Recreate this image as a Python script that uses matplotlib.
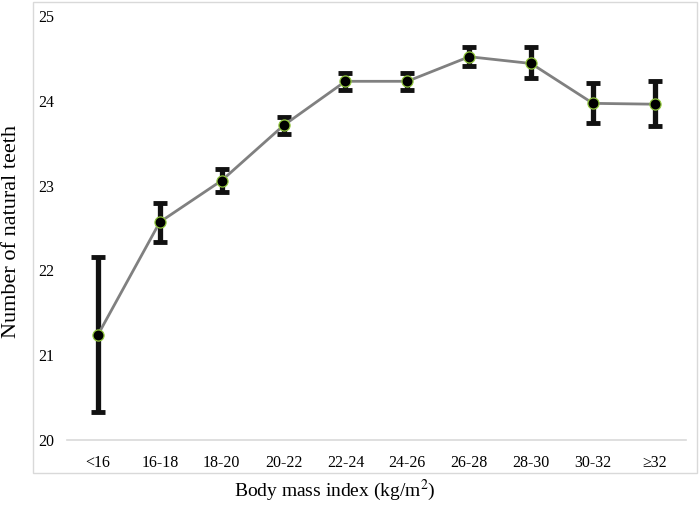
import numpy as np
import matplotlib
matplotlib.use("Agg")
import matplotlib.pyplot as plt
from matplotlib.patches import Rectangle

# mean number of natural teeth by BMI group, with 95% CI bounds
bmi_groups = ["<16", "16-18", "18-20", "20-22", "22-24", "24-26", "26-28", "28-30", "30-32", "≥32"]
mean_teeth = [21.24, 22.57, 23.06, 23.71, 24.23, 24.23, 24.52, 24.44, 23.97, 23.96]
ci_low = [20.33, 22.33, 22.92, 23.61, 24.13, 24.13, 24.41, 24.27, 23.74, 23.70]
ci_high = [22.16, 22.80, 23.20, 23.81, 24.33, 24.33, 24.64, 24.63, 24.21, 24.23]
y_ticks = [20, 21, 22, 23, 24, 25]

plt.rcParams["font.family"] = ["Liberation Serif", "DejaVu Serif"]
plt.rcParams["mathtext.fontset"] = "stix"

fig = plt.figure(figsize=(7.0, 5.05), dpi=100)
ax = fig.add_axes([0.0957, 0.1287, 0.884, 0.8396])

# outer frame around the chart area
fig.patches.append(Rectangle((33 / 700, 1 - 473 / 505), 664 / 700, 471 / 505,
                             transform=fig.transFigure, fill=False,
                             edgecolor="#d9d9d9", lw=1.0))

x = np.arange(len(bmi_groups))
m = np.array(mean_teeth)
yerr = [m - np.array(ci_low), np.array(ci_high) - m]

ax.errorbar(x, m, yerr=yerr, fmt="none", ecolor="#111111", elinewidth=3.8,
            capsize=5, capthick=3.5, zorder=2)
ax.plot(x, m, color="#808080", lw=2.0, zorder=3)
ax.plot(x, m, ls="none", marker="o", ms=8, mfc="black", mec="#92c83e", mew=0.9, zorder=4)

ax.set_xlim(-0.5, len(bmi_groups) - 0.5)
ax.set_ylim(20, 25)
ax.set_xticks(x)
ax.set_xticklabels(bmi_groups, fontsize=11.5)
ax.set_yticks(y_ticks)
ax.set_yticklabels([str(t) for t in y_ticks], fontsize=11.5)
ax.tick_params(axis="x", length=0, pad=11)
ax.tick_params(axis="y", length=0, pad=9.5)
for s in ["top", "right", "left"]:
    ax.spines[s].set_visible(False)
ax.spines["bottom"].set_color("#d9d9d9")
ax.spines["bottom"].set_linewidth(1.2)

fig.text(12 / 700, 1 - 232 / 505, "Number of natural teeth", rotation=90,
         ha="center", va="center", fontsize=16)
fig.text(335 / 700, 1 - 490 / 505, "Body mass index (kg/m$^2$)",
         ha="center", va="center", fontsize=14)

fig.savefig("out.png", dpi=100)
